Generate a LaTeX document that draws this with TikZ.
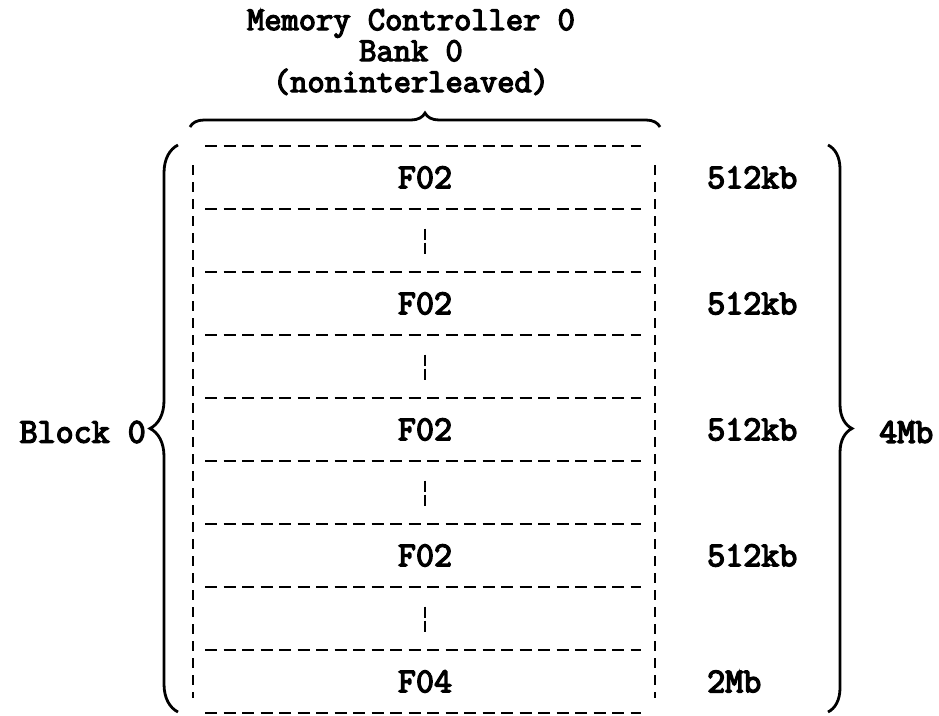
\documentclass[tikz,border=0pt]{standalone}
\usepackage{fontspec}
\setmonofont{Latin Modern Mono}[FakeBold=4]
\usetikzlibrary{decorations.pathreplacing}
\begin{document}
\begin{tikzpicture}[x=1pt,y=-1pt,
  lbl/.style={font=\fontsize{35}{35}\selectfont\ttfamily, inner sep=0pt},
  ttl/.style={font=\fontsize{33.5}{31}\selectfont\ttfamily, inner sep=0pt, align=center},
  dline/.style={line width=2.6pt, dash pattern=on 12pt off 6.5pt},
  vline/.style={line width=2.6pt, dash pattern=on 10pt off 7pt},
  tick/.style={line width=2.6pt, dash pattern=on 11pt off 3pt},
  brc/.style={line width=2.8pt, decorate, decoration={brace, amplitude=#1}}
]
\useasboundingbox (0,0) rectangle (939,715);
% title
\node[ttl] (title) at (411,52) {Memory Controller 0\\Bank 0\\(noninterleaved)};
% top brace
\coordinate (tbL) at (190,127);
\coordinate (tbR) at (660,127);
\draw[brc=14pt] (tbL) -- (tbR);
% horizontal dashed lines
\foreach \k in {0,...,9}{
  \coordinate (hl\k) at (205,{146+63*\k});
  \coordinate (hr\k) at (641,{146+63*\k});
  \draw[dline] (hl\k) -- (hr\k);
}
% side dashed verticals
\coordinate (vlt) at (193,165);
\coordinate (vlb) at (193,698);
\coordinate (vrt) at (655,165);
\coordinate (vrb) at (655,698);
\draw[vline] (vlt) -- (vlb);
\draw[vline] (vrt) -- (vrb);
% cell labels
\foreach \i/\t in {0/F02,2/F02,4/F02,6/F02,8/F04}{
  \node[lbl] (cell\i) at (425,{177.5+63*\i}) {\t};
}
\foreach \i in {1,3,5,7}{
  \coordinate (tt\i) at (425,{177.5+63*\i-12});
  \coordinate (tb\i) at (425,{177.5+63*\i+13});
  \draw[tick] (tt\i) -- (tb\i);
}
% sizes
\foreach \i/\t in {0/512kb,2/512kb,4/512kb,6/512kb,8/2Mb}{
  \node[lbl, anchor=west] (sz\i) at (707,{177.5+63*\i}) {\t};
}
% left brace
\coordinate (lbB) at (178,712);
\coordinate (lbT) at (178,145);
\draw[brc=28pt] (lbB) -- (lbT);
\node[lbl, anchor=east] (block) at (146,432) {Block 0};
% right brace
\coordinate (rbT) at (828,145);
\coordinate (rbB) at (828,712);
\draw[brc=24pt] (rbT) -- (rbB);
\node[lbl, anchor=west] (total) at (879,432) {4Mb};
\end{tikzpicture}
\end{document}
